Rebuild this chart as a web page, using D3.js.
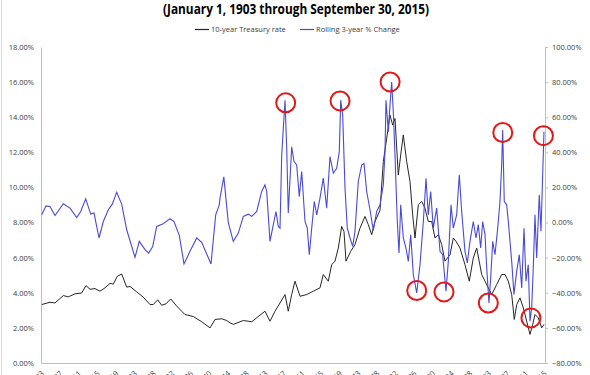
<!DOCTYPE html>
<html>
<head>
<meta charset="utf-8">
<script src="https://cdn.jsdelivr.net/npm/d3@7"></script>
<style>
  html, body { margin: 0; padding: 0; background: #fff; }
  svg { display: block; }
  text { font-family: "Open Sans", "Noto Sans", sans-serif; }
</style>
</head>
<body>
<svg id="chart" width="590" height="375"></svg>
<script>
// ---------------- DATA ----------------
const titleText = "(January 1, 1903 through September 30, 2015)";
const seriesNames = ["10-year Treasury rate", "Rolling 3-year % Change"];

// 10-year Treasury rate (%), left axis
const treasuryYears = [1903.16,1905.01,1906.13,1907.99,1909.11,1910.61,1912.1,1913.07,1913.96,1915.08,1916.2,1917.32,1918.44,1919.17,1920.07,1921.05,1922.17,1922.91,1924.41,1925.88,1927.38,1928.12,1929.11,1930.0,1930.96,1932.02,1933.36,1935.21,1937.07,1938.95,1940.81,1941.93,1943.42,1944.54,1945.28,1946.02,1948.26,1950.14,1953.11,1954.23,1955.35,1956.47,1957.59,1958.32,1959.08,1959.82,1960.94,1962.44,1963.92,1965.41,1966.15,1967.27,1968.03,1968.77,1969.51,1970.27,1970.78,1971.23,1972.28,1973.24,1974.36,1975.48,1976.22,1976.98,1977.72,1978.84,1979.58,1980.34,1981.07,1981.68,1982.19,1982.93,1983.47,1984.05,1984.81,1985.55,1986.15,1986.67,1987.41,1988.17,1988.9,1989.64,1990.4,1991.14,1991.88,1992.64,1993.38,1994.5,1995.24,1995.84,1996.73,1997.85,1998.81,1999.71,2000.47,2001.59,2002.33,2003.07,2003.83,2004.94,2006.06,2006.8,2007.54,2008.3,2008.88,2009.42,2010.16,2010.9,2011.66,2012.39,2013.0,2013.51,2014.25,2015.01,2015.52];
const treasuryRates = [3.33,3.46,3.42,3.84,3.77,3.94,3.99,4.41,4.20,4.24,4.09,4.28,4.54,4.49,4.94,5.07,4.32,4.36,4.05,3.75,3.33,3.33,3.60,3.29,3.37,3.65,3.24,2.76,2.65,2.35,2.00,2.48,2.52,2.42,2.29,2.20,2.42,2.35,2.95,2.38,2.95,3.42,3.90,2.95,3.90,4.66,3.80,3.90,4.09,4.28,5.04,4.66,5.60,5.80,6.55,7.78,7.50,5.80,6.36,6.74,7.68,8.35,7.88,7.31,8.06,8.70,11.47,12.80,14.12,13.55,13.93,10.71,11.85,12.99,11.47,10.33,8.44,7.12,9.01,9.20,8.82,8.06,8.06,7.12,7.31,6.74,5.80,6.17,7.12,6.93,6.55,5.60,4.66,5.98,6.55,5.04,4.66,4.28,3.90,4.47,5.04,5.04,4.66,3.90,2.48,3.33,3.71,3.14,2.38,1.63,2.20,2.76,2.57,2.00,2.20];

// Rolling 3-year % change (%), right axis
const changeYears = [1903.16,1904.12,1905.01,1906.13,1907.99,1909.49,1910.99,1911.88,1913.0,1914.12,1914.86,1915.98,1916.94,1918.06,1918.95,1919.93,1921.05,1922.17,1924.03,1924.99,1926.27,1927.09,1927.99,1928.88,1930.22,1931.86,1932.75,1933.94,1934.99,1936.33,1937.83,1938.95,1941.03,1942.08,1942.89,1943.04,1943.9,1944.9,1946.02,1947.14,1948.26,1949.38,1950.14,1951.26,1952.37,1953.11,1953.49,1954.23,1954.97,1955.57,1956.09,1956.47,1956.85,1957.59,1957.97,1958.32,1959.08,1959.6,1960.2,1960.78,1961.32,1962.06,1962.57,1963.02,1963.56,1964.14,1964.68,1965.41,1966.15,1966.91,1967.65,1968.39,1969.15,1969.73,1970.05,1970.49,1971.01,1971.52,1972.13,1972.73,1973.24,1973.98,1974.74,1975.26,1975.86,1976.6,1977.34,1978.1,1978.84,1979.58,1979.96,1980.18,1980.7,1981.07,1981.45,1981.81,1982.19,1982.71,1983.09,1983.47,1984.05,1984.65,1985.17,1985.71,1986.29,1987.05,1987.79,1988.53,1989.13,1989.64,1990.18,1990.76,1991.52,1992.26,1992.86,1993.6,1994.12,1994.72,1995.24,1995.99,1996.58,1997.11,1997.85,1998.37,1998.97,1999.71,2000.31,2000.83,2001.36,2001.81,2002.33,2002.71,2003.22,2003.6,2004.05,2004.56,2005.17,2005.68,2006.06,2006.28,2006.64,2007.18,2007.54,2008.3,2008.81,2009.42,2010.0,2010.54,2011.05,2011.5,2012.01,2012.39,2012.77,2013.13,2013.51,2013.89,2014.47,2014.85,2015.23,2015.52];
const changeValues = [4.4,9.5,9.2,4.0,10.7,8.2,2.9,6.3,13.5,4.8,5.4,-8.8,0.6,7.3,10.5,17.3,10.5,-4.1,-19.8,-10.7,-15.4,-17.4,-13.6,-2.2,-0.9,2.2,0.6,-7.3,-23.6,-16.4,-8.8,-11.3,-23.6,4.4,10.1,13.9,26.0,0.0,-10.7,-6.0,3.5,4.8,3.5,6.3,17.7,21.5,17.7,-10.7,-1.2,6.3,-2.2,-3.2,38.5,69.7,42.3,5.4,43.2,34.7,32.8,14.8,29.0,0.6,-3.2,-18.3,-3.2,12.0,4.4,13.9,25.3,8.2,37.5,28.1,30.9,40.4,69.7,61.2,19.5,-3.2,-8.8,-13.6,-5.0,23.4,32.8,33.7,17.7,7.3,-4.5,6.3,10.1,21.5,40.4,69.7,51.7,66.9,80.0,63.1,38.5,0.6,-17.4,10.1,-8.8,-14.5,-22.1,-6.9,-29.6,-40.1,-24.0,0.6,25.2,4.4,17.7,-3.2,8.2,-16.4,-18.3,-39.1,-22.1,10.1,-3.2,4.4,27.2,6.3,-16.4,-23.0,-10.7,0.6,-8.8,-1.2,-14.5,0.6,-6.9,-25.9,-45.8,-31.6,-10.7,-18.3,-3.2,12.0,32.8,52.7,12.0,10.1,0.6,-22.1,-41.0,-27.7,-18.3,-37.2,-3.2,-33.4,-24.0,-56.2,-48.6,-25.9,4.4,-20.2,15.8,-5.0,27.2,51.7];

// Highlight circles (year, rolling % change)
const circleYears  = [1957.74, 1969.9, 1981.1, 1987.05, 1993.15, 2003.07, 2006.3, 2012.6, 2015.4];
const circleValues = [68.2, 69.3, 80.1, -38.7, -39.5, -45.8, 51.3, -54.3, 49.5];

// Axis ticks
const leftTicks  = [0, 2, 4, 6, 8, 10, 12, 14, 16, 18];
const rightTicks = [-80, -60, -40, -20, 0, 20, 40, 60, 80, 100];
const xTickLabels = ["1/1/1903","3/1/1907","5/1/1911","7/1/1915","9/1/1919","11/1/1923","1/1/1928","3/1/1932","5/1/1936","7/1/1940","9/1/1944","11/1/1948","1/1/1953","3/1/1957","5/1/1961","7/1/1965","9/1/1969","11/1/1973","1/1/1978","3/1/1982","5/1/1986","7/1/1990","9/1/1994","11/1/1998","1/1/2003","3/1/2007","5/1/2011","7/1/2015"];

// ---------------- DRAW ----------------
const svg = d3.select("#chart");
const W = 590, H = 375;
const plot = { left: 41, right: 545, top: 47, bottom: 363 };

const toYear = s => { const p = s.split("/"); return +p[2] + (+p[0] - 1) / 12; };

const x = d3.scaleLinear().domain([1903, 2015.75]).range([plot.left, plot.right]);
const yL = d3.scaleLinear().domain([0, 18]).range([plot.bottom, plot.top]);
const yR = d3.scaleLinear().domain([-80, 100]).range([plot.bottom, plot.top]);

// chart outer border (left edge visible)
svg.append("line").attr("x1", 1.5).attr("x2", 1.5).attr("y1", 0).attr("y2", H)
  .attr("stroke", "#d9d9d9").attr("stroke-width", 1);

// Title
svg.append("text").attr("x", 296).attr("y", 14).attr("text-anchor", "middle")
  .attr("font-size", 14).attr("font-weight", "bold").attr("fill", "#000")
  .attr("textLength", 266).attr("lengthAdjust", "spacingAndGlyphs")
  .text(titleText);

// Legend
const legend = [
  { name: seriesNames[0], color: "#262626", x0: 195 },
  { name: seriesNames[1], color: "#4a4ad8", x0: 300 }
];
legend.forEach(l => {
  svg.append("line").attr("x1", l.x0).attr("x2", l.x0 + 14).attr("y1", 29.5).attr("y2", 29.5)
    .attr("stroke", l.color).attr("stroke-width", 1.2);
  svg.append("text").attr("x", l.x0 + 16).attr("y", 32).attr("font-size", 7.5)
    .attr("fill", "#404040").text(l.name);
});

// Axes
const axisColor = "#bfbfbf";
const labelColor = "#404040";

const leftAxis = d3.axisLeft(yL).tickValues(leftTicks).tickSize(0).tickPadding(7)
  .tickFormat(d => d3.format(".2f")(d) + "%");
const gL = svg.append("g").attr("transform", `translate(${plot.left},0)`).call(leftAxis);
gL.select(".domain").attr("stroke", axisColor);
gL.selectAll("text").attr("font-size", 7.5).attr("fill", labelColor)
  .attr("font-family", "'Open Sans', sans-serif");

const rightAxis = d3.axisRight(yR).tickValues(rightTicks).tickSize(3).tickPadding(4)
  .tickFormat(d => d3.format(".2f")(d) + "%");
const gR = svg.append("g").attr("transform", `translate(${plot.right},0)`).call(rightAxis);
gR.select(".domain").attr("stroke", axisColor);
gR.selectAll("line").attr("stroke", axisColor);
gR.selectAll("text").attr("font-size", 7.5).attr("fill", labelColor)
  .attr("font-family", "'Open Sans', sans-serif");

const bottomAxis = d3.axisBottom(x).tickValues(xTickLabels.map(toYear)).tickSize(0)
  .tickFormat((d, i) => xTickLabels[i]);
const gB = svg.append("g").attr("transform", `translate(0,${plot.bottom})`).call(bottomAxis);
gB.select(".domain").attr("stroke", axisColor);
gB.selectAll("text")
  .attr("font-size", 7.5).attr("fill", labelColor)
  .attr("font-family", "'Open Sans', sans-serif")
  .attr("text-anchor", "end")
  .attr("dy", null).attr("y", 0)
  .attr("transform", "translate(3,11) rotate(-45)");

// Lines
const lineL = d3.line().x(d => x(d[0])).y(d => yL(d[1]));
const lineR = d3.line().x(d => x(d[0])).y(d => yR(d[1]));

svg.append("path")
  .datum(treasuryYears.map((yr, i) => [yr, treasuryRates[i]]))
  .attr("d", lineL).attr("fill", "none").attr("stroke", "#262626").attr("stroke-width", 1);

svg.append("path")
  .datum(changeYears.map((yr, i) => [yr, changeValues[i]]))
  .attr("d", lineR).attr("fill", "none").attr("stroke", "#4a4ad8").attr("stroke-width", 1.1);

// Highlight circles
svg.selectAll("circle.hl")
  .data(circleYears.map((yr, i) => [yr, circleValues[i]]))
  .enter().append("circle").attr("class", "hl")
  .attr("cx", d => x(d[0])).attr("cy", d => yR(d[1])).attr("r", 9.5)
  .attr("fill", "none").attr("stroke", "#e01818").attr("stroke-width", 2);
</script>
</body>
</html>
